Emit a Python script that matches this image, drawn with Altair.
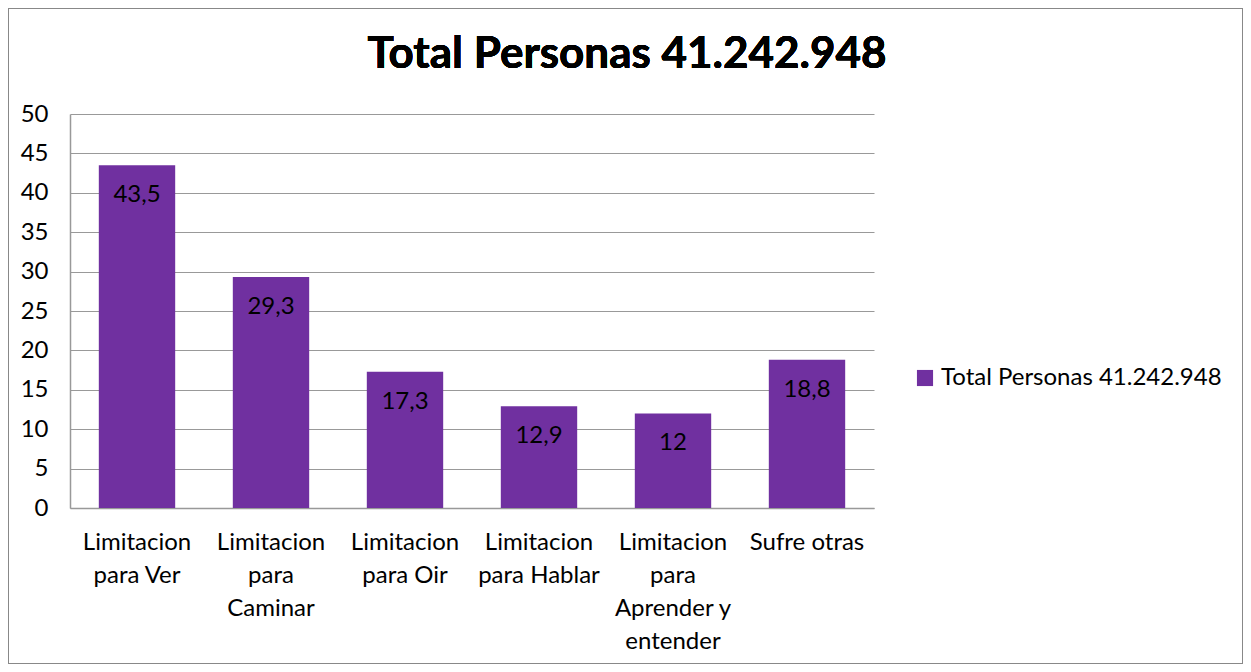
import altair as alt
import pandas as pd

categories = [
    "Limitacion\npara Ver",
    "Limitacion\npara\nCaminar",
    "Limitacion\npara Oir",
    "Limitacion\npara Hablar",
    "Limitacion\npara\nAprender y\nentender",
    "Sufre otras",
]
values = [43.5, 29.3, 17.3, 12.9, 12.0, 18.8]
value_labels = ["43,5", "29,3", "17,3", "12,9", "12", "18,8"]
y_ticks = [0, 5, 10, 15, 20, 25, 30, 35, 40, 45, 50]
series_name = "Total Personas 41.242.948"

df = pd.DataFrame({
    "cat": categories,
    "value": values,
    "label": value_labels,
    "series": [series_name] * len(categories),
})

FONT = "Lato"
PURPLE = "#7030A0"
FS = 24

xaxis = alt.Axis(
    labelAngle=0,
    labelExpr="split(datum.label, '\\n')",
    labelFontSize=FS,
    labelLineHeight=33,
    labelPadding=22,
    labelBaseline="top",
    ticks=False,
    domainColor="#999999",
    domainWidth=1.5,
    labelColor="#000000",
    labelFont=FONT,
    labelLimit=200,
    grid=False,
)
xscale = alt.Scale(paddingInner=0.43, paddingOuter=0.215)

yaxis = alt.Axis(
    values=y_ticks,
    labelOverlap=False,
    labelFontSize=FS,
    labelFont=FONT,
    labelColor="#000000",
    labelPadding=22,
    ticks=False,
    domainColor="#999999",
    domainWidth=1.5,
    gridColor="#999999",
    gridWidth=1.2,
)
yscale = alt.Scale(domain=[0, 50])

bars = alt.Chart(df).mark_bar(color=PURPLE).encode(
    x=alt.X("cat:N", sort=categories, title=None, scale=xscale, axis=xaxis),
    y=alt.Y("value:Q", title=None, scale=yscale, axis=yaxis),
    fill=alt.Fill(
        "series:N",
        scale=alt.Scale(range=[PURPLE]),
        legend=alt.Legend(
            title=None,
            orient="none",
            legendX=843,
            legendY=252,
            symbolType="square",
            symbolSize=260,
            symbolStrokeWidth=0,
            labelFontSize=FS,
            labelFont=FONT,
            labelColor="#000000",
            labelOffset=4,
            labelLimit=400,
        ),
    ),
)

texts = alt.Chart(df).mark_text(fontSize=FS, font=FONT, color="#000000", baseline="middle", dy=30).encode(
    x=alt.X("cat:N", sort=categories, title=None, scale=xscale, axis=xaxis),
    y=alt.Y("value:Q", title=None, scale=yscale, axis=yaxis),
    text="label:N",
)

title_mark = alt.Chart(df).mark_text(
    fontSize=44, font=FONT, fontWeight="bold", color="#000000", align="center", baseline="alphabetic"
).encode(
    x=alt.value(557), y=alt.value(-46), text=alt.value(series_name)
)

border = alt.Chart(df).mark_rect(fill=None, stroke="#888888", strokeWidth=1).encode(
    x=alt.value(-61.5), x2=alt.value(1172.5), y=alt.value(-105.5), y2=alt.value(549.5)
)

chart = alt.layer(bars, texts, title_mark, border).properties(
    width=804,
    height=394,
    background="white",
    autosize=alt.AutoSizeParams(type="none"),
    padding={"left": 62, "top": 106, "right": 369, "bottom": 156},
).configure_view(stroke="transparent", strokeWidth=0)

chart.save("out.html", embed_options={"renderer": "svg", "actions": False})
